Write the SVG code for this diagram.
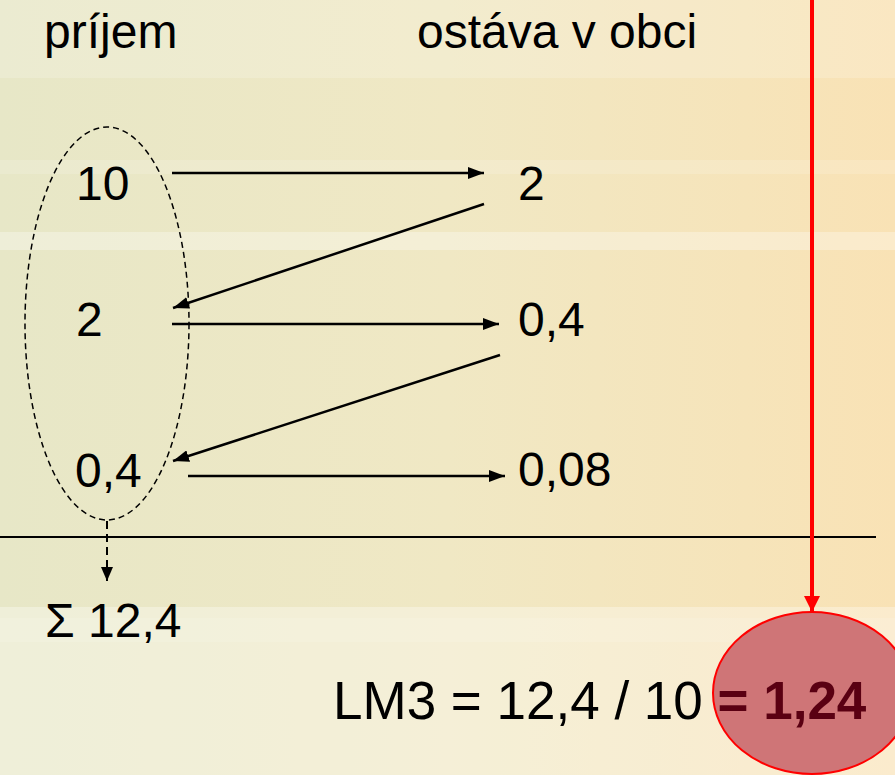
<svg xmlns="http://www.w3.org/2000/svg" width="895" height="775" viewBox="0 0 895 775">
<defs>
<linearGradient id="bg" x1="0" y1="0" x2="1" y2="0">
<stop offset="0" stop-color="#e7e7c7"/>
<stop offset="0.5" stop-color="#f0e8c4"/>
<stop offset="1" stop-color="#f9e2b5"/>
</linearGradient>
<marker id="ah" viewBox="0 0 16 12" refX="16" refY="6" markerWidth="16" markerHeight="12" markerUnits="userSpaceOnUse" orient="auto">
<path d="M0,0 L16,6 L0,12 Z" fill="#000"/>
</marker>
<marker id="ahs" viewBox="0 0 14 12" refX="14" refY="6" markerWidth="14" markerHeight="12" markerUnits="userSpaceOnUse" orient="auto">
<path d="M0,0 L14,6 L0,12 Z" fill="#000"/>
</marker>
<marker id="ahr" viewBox="0 0 16 16" refX="16" refY="8" markerWidth="16" markerHeight="16" markerUnits="userSpaceOnUse" orient="auto">
<path d="M0,0 L16,8 L0,16 Z" fill="#ff0000"/>
</marker>
<style>
.t{font-family:"Liberation Sans",Arial,sans-serif;font-size:48px;fill:#000}
.big{font-size:53px}
.c{stroke:#000;stroke-width:2.5;fill:none}
</style>
</defs>
<g id="background">
<rect width="895" height="775" fill="url(#bg)"/>
<rect y="0" width="895" height="78" fill="#fff" opacity="0.18"/>
<rect y="160" width="895" height="14" fill="#fff" opacity="0.15"/>
<rect y="232" width="895" height="18" fill="#fff" opacity="0.3"/>
<rect y="607" width="895" height="168" fill="#fff" opacity="0.32"/>
<rect y="618" width="895" height="24" fill="#fff" opacity="0.12"/>
</g>
<g id="headers">
<text class="t" x="44" y="48">príjem</text>
<text class="t" x="417" y="48">ostáva v obci</text>
</g>
<g id="group-ellipse">
<ellipse cx="107" cy="323.5" rx="82" ry="196.5" fill="none" stroke="#000" stroke-width="1.5" stroke-dasharray="6,4"/>
</g>
<g id="n-left-10"><text class="t" x="76" y="200">10</text></g>
<g id="n-right-2"><text class="t" x="518" y="200">2</text></g>
<g id="n-left-2"><text class="t" x="76" y="336">2</text></g>
<g id="n-right-04"><text class="t" x="518" y="336">0,4</text></g>
<g id="n-left-04"><text class="t" x="75" y="487">0,4</text></g>
<g id="n-right-008"><text class="t" x="518" y="486">0,08</text></g>
<g id="n-sum"><text class="t" x="45" y="637">Σ 12,4</text></g>
<g id="result">
<ellipse cx="812" cy="693" rx="99" ry="81" fill="#cf7577" stroke="#ff0000" stroke-width="2"/>
<text class="t big" x="333" y="719">LM3 = 12,4 / 10 <tspan font-weight="bold" fill="#5a0012">= 1,24</tspan></text>
</g>
<g id="connectors">
<line x1="0" y1="537" x2="876" y2="537" stroke="#000" stroke-width="2"/>
<line class="c" x1="172" y1="173" x2="484" y2="173" marker-end="url(#ah)"/>
<line class="c" x1="484" y1="204" x2="173" y2="308" marker-end="url(#ah)"/>
<line class="c" x1="172" y1="324" x2="499" y2="324" marker-end="url(#ah)"/>
<line class="c" x1="500" y1="355" x2="173" y2="461" marker-end="url(#ah)"/>
<line class="c" x1="188" y1="476" x2="505" y2="476" marker-end="url(#ah)"/>
<line x1="107" y1="521" x2="107" y2="581" stroke="#000" stroke-width="2" stroke-dasharray="8,5" marker-end="url(#ahs)"/>
<line x1="812" y1="0" x2="812" y2="612" stroke="#ff0000" stroke-width="4" marker-end="url(#ahr)"/>
</g>
</svg>
